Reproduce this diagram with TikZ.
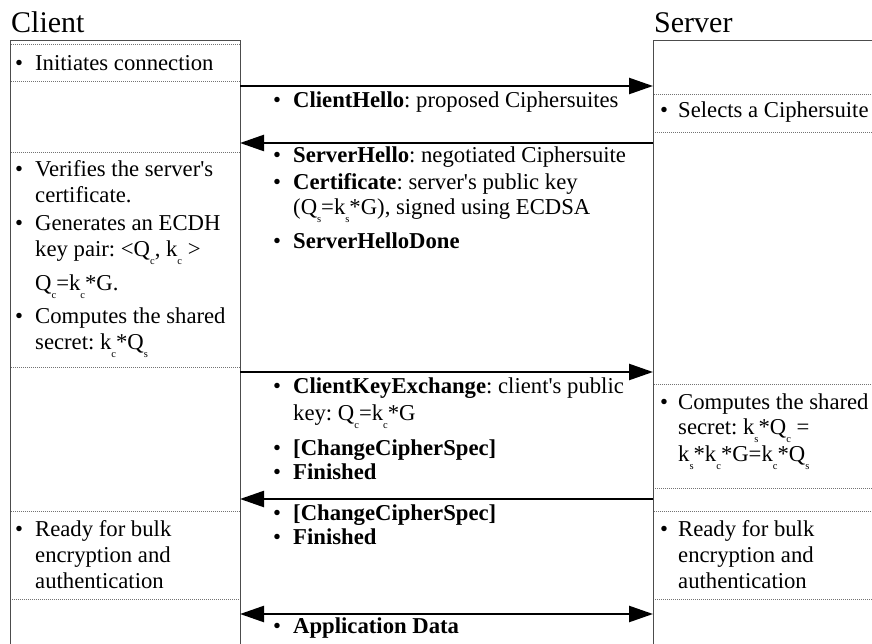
\documentclass[tikz,border=0pt]{standalone}
\usepackage{fontspec}
\setmainfont{Liberation Serif}[Ligatures=TeXOff]
\usetikzlibrary{arrows.meta}
\newcommand{\sbs}[1]{\raisebox{-8pt}[0pt][0pt]{\fontsize{10.5}{10.5}\selectfont #1}}
\newcommand{\bitem}[2]{\makebox[#1][l]{\textbullet}\begin{tabular}[t]{@{}l@{}}#2\end{tabular}}
\frenchspacing
\begin{document}
\begin{tikzpicture}[x=1pt,y=-1pt,
  lifebox/.style={draw=black!70, line width=0.9pt},
  section/.style={draw=black!55, line width=0.7pt, dash pattern=on 0.8pt off 1.2pt},
  msg/.style={line width=2.4pt, -{Triangle[length=24pt,width=16pt]}},
  msgboth/.style={line width=2.4pt, {Triangle[length=24pt,width=16pt]}-{Triangle[length=24pt,width=16pt]}},
  txt/.style={anchor=base west, inner sep=0pt, font=\fontsize{22.7}{26}\selectfont\frenchspacing},
  title/.style={anchor=base west, inner sep=0pt, font=\fontsize{30}{30}\selectfont}
]
\useasboundingbox (0,0) rectangle (872,644);
\clip (0,0) rectangle (872,644);
\fill[white] (0,0) rectangle (872,644);

% titles
\node[title] (clientT) at (11,33) {Client};
\node[title] (serverT) at (654,33) {Server};

% sections (dotted)
\draw[section] (10,44) rectangle (240,81);
\draw[section] (10,152) rectangle (240,367);
\draw[section] (10,511) rectangle (240,599);
\draw[section] (653,94) rectangle (890,132);
\draw[section] (653,384) rectangle (890,488);
\draw[section] (653,511) rectangle (890,599);

% lifeline boxes
\draw[lifebox] (10,660) -- (10,40) -- (240,40) -- (240,660);
\draw[lifebox] (653,660) -- (653,40) -- (890,40);

% connector end points
\coordinate (c1) at (240,86);  \coordinate (s1) at (653,86);
\coordinate (c2) at (240,143); \coordinate (s2) at (653,143);
\coordinate (c3) at (240,372); \coordinate (s3) at (653,372);
\coordinate (c4) at (240,499); \coordinate (s4) at (653,499);
\coordinate (c5) at (240,614); \coordinate (s5) at (653,614);

\draw[msg] (c1) -- (s1);
\draw[msg] (s2) -- (c2);
\draw[msg] (c3) -- (s3);
\draw[msg] (s4) -- (c4);
\draw[msgboth] (c5) -- (s5);

% client texts
\node[txt] (cl1) at (15,71) {\bitem{20pt}{Initiates connection}};
\node[txt] (cl2) at (15,177) {\bitem{20pt}{Verifies the server's\\ certificate.}};
\node[txt] (cl3) at (15,231) {\bitem{20pt}{Generates an ECDH\\ key pair: <Q\sbs{c}, k\sbs{c} >\\[7pt] Q\sbs{c}=k\sbs{c}*G.}};
\node[txt] (cl4) at (15,323) {\bitem{20pt}{Computes the shared\\ secret: k\sbs{c}*Q\sbs{s}}};
\node[txt] (cl5) at (15,536) {\bitem{20pt}{Ready for bulk\\ encryption and\\ authentication}};

% server texts
\node[txt] (sv1) at (660,118) {\bitem{18pt}{Selects a Ciphersuite}};
\node[txt] (sv2) at (660,409) {\bitem{18pt}{Computes the shared\\[-1pt] secret: k\sbs{s}*Q\sbs{c} =\\[1pt] k\sbs{s}*k\sbs{c}*G=k\sbs{c}*Q\sbs{s}}};
\node[txt] (sv3) at (660,536) {\bitem{18pt}{Ready for bulk\\ encryption and\\ authentication}};

% message texts
\node[txt] (m1) at (273,108) {\bitem{20pt}{\textbf{ClientHello}: proposed Ciphersuites}};
\node[txt] (m2) at (273,163) {\bitem{20pt}{\textbf{ServerHello}: negotiated Ciphersuite}};
\node[txt] (m3) at (273,190) {\bitem{20pt}{\textbf{Certificate}: server's public key\\[-1pt] (Q\sbs{s}=k\sbs{s}*G), signed using ECDSA}};
\node[txt] (m4) at (273,249) {\bitem{20pt}{\textbf{ServerHelloDone}}};
\node[txt] (m5) at (273,393) {\bitem{20pt}{\textbf{ClientKeyExchange}: client's public\\[1pt] key: Q\sbs{c}=k\sbs{c}*G}};
\node[txt] (m6) at (273,455) {\bitem{20pt}{\textbf{[ChangeCipherSpec]}}};
\node[txt] (m7) at (273,479) {\bitem{20pt}{\textbf{Finished}}};
\node[txt] (m8) at (273,520) {\bitem{20pt}{\textbf{[ChangeCipherSpec]}}};
\node[txt] (m9) at (273,544) {\bitem{20pt}{\textbf{Finished}}};
\node[txt] (m10) at (273,633) {\bitem{20pt}{\textbf{Application Data}}};
\end{tikzpicture}
\end{document}
